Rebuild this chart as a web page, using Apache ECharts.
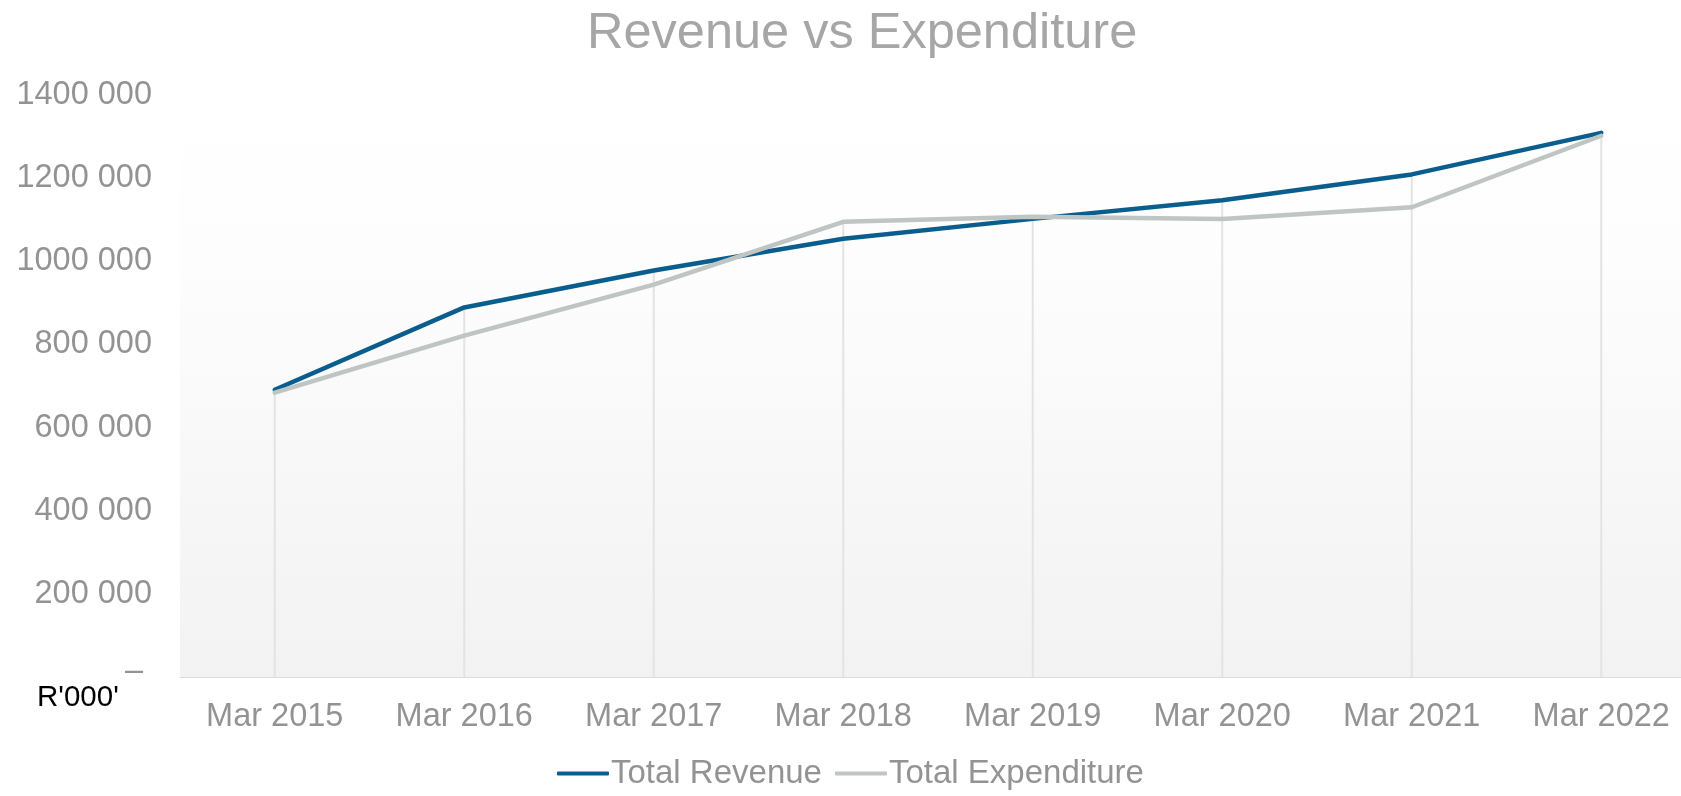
<!DOCTYPE html>
<html>
<head>
<meta charset="utf-8">
<script src="https://cdn.jsdelivr.net/npm/echarts@6/dist/echarts.min.js"></script>
<style>
    html, body { margin: 0; padding: 0; background: #fff; overflow: hidden; }
    #chart { width: 1681px; height: 796px; }
</style>
</head>
<body>
<div id="chart"></div>
<script>
// data (R'000')
const categories = ["Mar 2015", "Mar 2016", "Mar 2017", "Mar 2018", "Mar 2019", "Mar 2020", "Mar 2021", "Mar 2022"];
const totalRevenue = [691000, 889000, 978000, 1054000, 1102000, 1147000, 1209000, 1309000];
const totalExpenditure = [684000, 821000, 944000, 1095000, 1107000, 1102000, 1130000, 1302000];

// drop lines go from the higher point down to the axis
const dropLines = totalRevenue.map((v, i) => Math.max(v, totalExpenditure[i]));

const labelFont = "Liberation Sans, Arial, sans-serif";

let myChart = echarts.init(document.getElementById("chart"));
myChart.setOption({
    animation: false,
    title: {
        text: "Revenue vs Expenditure",
        left: 582,
        top: 4,
        textStyle: {
            color: "#a6a6a6",
            fontSize: 50.5,
            fontWeight: "normal",
            fontFamily: labelFont,
        },
    },
    legend: {
        data: ["Total Revenue", "Total Expenditure"],
        left: 557,
        top: 757,
        padding: 0,
        icon: "roundRect",
        itemWidth: 52,
        itemHeight: 4,
        itemGap: 13,
        textStyle: {
            color: "#939393",
            fontSize: 33,
            fontFamily: labelFont,
            padding: [0, 0, 0, -3],
        },
    },
    grid: {
        left: 180,
        top: 95,
        width: 1516,
        height: 582,
        outerBoundsMode: "none",
        containLabel: false,
        show: true,
        borderWidth: 0,
        backgroundColor: {
            type: "linear",
            x: 0, y: 0, x2: 0, y2: 1,
            colorStops: [
                { offset: 0, color: "#ffffff" },
                { offset: 0.3, color: "#fdfdfd" },
                { offset: 1, color: "#f2f2f2" },
            ],
        },
    },
    xAxis: {
        type: "category",
        data: categories,
        boundaryGap: true,
        axisTick: { show: false },
        axisLine: { lineStyle: { color: "#dcdcdc", width: 1 } },
        axisLabel: {
            color: "#939393",
            fontSize: 32.5,
            fontFamily: labelFont,
            margin: 24,
        },
    },
    yAxis: {
        type: "value",
        min: 0,
        max: 1400000,
        interval: 200000,
        splitLine: { show: false },
        axisLine: { show: false },
        axisTick: { show: false },
        axisLabel: {
            color: "#939393",
            fontSize: 32.5,
            fontFamily: labelFont,
            margin: 28,
            formatter: function (v) {
                if (v === 0) return "{d|– }";
                return Math.floor(v / 1000) + " " + String(v % 1000).padStart(3, "0");
            },
            rich: {
                d: {
                    color: "#939393",
                    fontSize: 32.5,
                    fontFamily: labelFont,
                    padding: [0, 0, 12, 0],
                },
            },
        },
    },
    graphic: [
        {
            type: "text",
            left: 37,
            top: 683,
            style: {
                text: "R'000'",
                fill: "#000",
                font: "29.5px " + labelFont,
            },
        },
    ],
    series: [
        {
            name: "drop",
            type: "bar",
            data: dropLines,
            barWidth: 2,
            silent: true,
            z: 1,
            itemStyle: { color: "#e3e3e3" },
        },
        {
            name: "Total Revenue",
            type: "line",
            data: totalRevenue,
            showSymbol: false,
            z: 3,
            lineStyle: { color: "#0a5e8e", width: 4.5, cap: "round" },
            itemStyle: { color: "#0a5e8e" },
        },
        {
            name: "Total Expenditure",
            type: "line",
            data: totalExpenditure,
            showSymbol: false,
            z: 4,
            lineStyle: { color: "#bec5c3", width: 4.5, cap: "round" },
            itemStyle: { color: "#bec5c3" },
        },
    ],
});
</script>
</body>
</html>
